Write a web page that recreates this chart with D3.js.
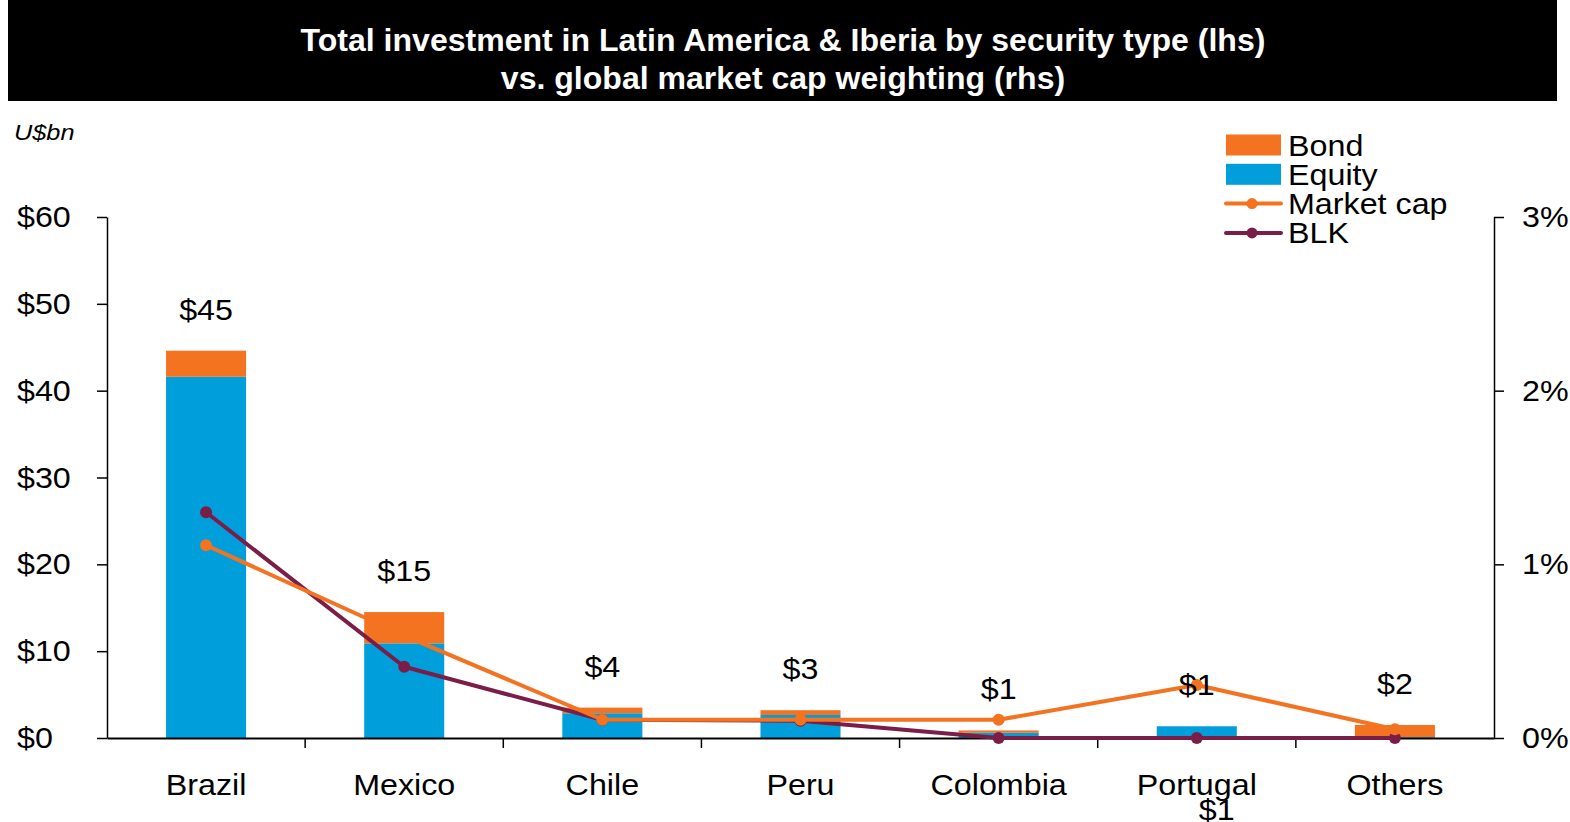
<!DOCTYPE html>
<html>
<head>
<meta charset="utf-8">
<script src="https://cdn.jsdelivr.net/npm/d3@7/dist/d3.min.js"></script>
<style>
  html, body { margin: 0; padding: 0; background: #fff; }
  svg { display: block; font-family: "Liberation Sans", Arial, Helvetica, sans-serif; }
</style>
</head>
<body>
<svg id="chart" width="1570" height="822"></svg>
<script>
// Countries / regions on the category axis
const categories = ["Brazil", "Mexico", "Chile", "Peru", "Colombia", "Portugal", "Others"];
// Investment by security type, US$ bn (left axis)
const equity = [41.6, 10.9, 2.85, 2.65, 0.6, 1.35, 0.1];
const bond   = [3.0, 3.6, 0.65, 0.55, 0.27, 0.0, 1.4];
// Weightings, % (right axis)
const marketCap = [1.11, 0.59, 0.105, 0.105, 0.105, 0.305, 0.05];
const blk       = [1.30, 0.41, 0.105, 0.10, 0.0, 0.0, 0.0];
// Axis tick values
const leftTicks  = [0, 10, 20, 30, 40, 50, 60];
const rightTicks = [0, 1, 2, 3];
const titleLines = [
  "Total investment in Latin America & Iberia by security type (lhs)",
  "vs. global market cap weighting (rhs)"
];

const C_BOND = "#f37321", C_EQUITY = "#009fdb", C_BLK = "#7a1e48";
const FONT = "Liberation Sans, Arial, sans-serif";

const svg = d3.select("#chart");
const plot = { left: 107, right: 1494, top: 217, bottom: 738 };

// Title banner
svg.append("rect").attr("x", 8).attr("y", 0).attr("width", 1549).attr("height", 101).attr("fill", "#000");
svg.selectAll("text.title").data(titleLines).join("text")
  .attr("class", "title wide-title")
  .attr("x", 783).attr("y", (d, i) => 51 + i * 38)
  .attr("text-anchor", "middle")
  .attr("fill", "#fff").attr("font-weight", "bold").attr("font-size", 31.5)
  .text(d => d);

// Scales
const x = d3.scaleBand().domain(categories).range([plot.left, plot.right])
  .paddingInner(0.596).paddingOuter(0.298);
const yL = d3.scaleLinear().domain([0, 60]).range([plot.bottom, plot.top]);
const yR = d3.scaleLinear().domain([0, 3]).range([plot.bottom, plot.top]);

// Stacked bars: equity at the bottom, bond on top
const rows = categories.map((c, i) => ({ c, equity: equity[i], bond: bond[i] }));
const stacked = d3.stack().keys(["equity", "bond"])(rows);
const colors = { equity: C_EQUITY, bond: C_BOND };
svg.append("g").selectAll("g").data(stacked).join("g")
  .attr("fill", d => colors[d.key])
  .selectAll("rect").data(d => d).join("rect")
  .attr("x", d => x(d.data.c))
  .attr("width", x.bandwidth())
  .attr("y", d => yL(d[1]))
  .attr("height", d => yL(d[0]) - yL(d[1]));

// Left axis
const axL = svg.append("g").attr("transform", `translate(${plot.left},0)`)
  .call(d3.axisLeft(yL).tickValues(leftTicks).tickSize(10).tickSizeOuter(0).tickPadding(0)
    .tickFormat(d => "$" + d));
axL.select(".domain").attr("stroke", "#000").attr("stroke-width", 1.5);
axL.selectAll(".tick line").attr("stroke", "#000").attr("stroke-width", 1.5);
axL.selectAll(".tick text").attr("x", -90).attr("text-anchor", "start")
  .attr("font-size", 30).attr("fill", "#000").attr("font-family", FONT).classed("wide", true);

// Right axis
const axR = svg.append("g").attr("transform", `translate(${plot.right},0)`)
  .call(d3.axisRight(yR).tickValues(rightTicks).tickSize(10).tickSizeOuter(0).tickPadding(18)
    .tickFormat(d => d + "%"));
axR.select(".domain").attr("stroke", "#000").attr("stroke-width", 1.5);
axR.selectAll(".tick line").attr("stroke", "#000").attr("stroke-width", 1.5);
axR.selectAll(".tick text").attr("font-size", 30).attr("fill", "#000")
  .attr("font-family", FONT).classed("wide", true);

// Category axis with ticks between categories
const axX = svg.append("g").attr("transform", `translate(0,${plot.bottom})`)
  .call(d3.axisBottom(x).tickSize(0).tickSizeOuter(0).tickPadding(36));
axX.select(".domain").attr("stroke", "#000").attr("stroke-width", 2);
axX.selectAll(".tick text").attr("font-size", 30).attr("fill", "#000")
  .attr("font-family", FONT).classed("wide", true);
const step = x.step();
svg.append("g").selectAll("line").data(categories.slice(1)).join("line")
  .attr("x1", d => x(d) + x.bandwidth() / 2 - step / 2)
  .attr("x2", d => x(d) + x.bandwidth() / 2 - step / 2)
  .attr("y1", plot.bottom).attr("y2", plot.bottom + 10)
  .attr("stroke", "#000").attr("stroke-width", 1.5);

// Weighting lines: BLK underneath, market cap on top
const cx = c => x(c) + x.bandwidth() / 2;
function drawLine(values, color) {
  const pts = categories.map((c, i) => [cx(c), yR(values[i])]);
  svg.append("path").datum(pts)
    .attr("d", d3.line())
    .attr("fill", "none").attr("stroke", color).attr("stroke-width", 4)
    .attr("stroke-linejoin", "round");
  svg.append("g").selectAll("circle").data(pts).join("circle")
    .attr("cx", d => d[0]).attr("cy", d => d[1]).attr("r", 6).attr("fill", color);
}
drawLine(blk, C_BLK);
drawLine(marketCap, C_BOND);

// Total labels above each bar
const totals = categories.map((c, i) => equity[i] + bond[i]);
const fmt = v => "$" + Math.round(+v.toFixed(2));
svg.append("g").selectAll("text").data(categories).join("text")
  .attr("class", "wide")
  .attr("x", c => cx(c)).attr("y", (c, i) => yL(totals[i]) - 31)
  .attr("text-anchor", "middle").attr("font-size", 30).attr("fill", "#000")
  .text((c, i) => fmt(totals[i]));
// Portugal's total is also printed beneath its category name
svg.append("text")
  .attr("class", "wide")
  .attr("x", cx("Portugal") + 20).attr("y", 820)
  .attr("text-anchor", "middle").attr("font-size", 30).attr("fill", "#000")
  .text(fmt(totals[categories.indexOf("Portugal")]));

// Units label
svg.append("text").attr("class", "wide-units").attr("x", 14).attr("y", 140)
  .attr("font-size", 22).attr("font-style", "italic").attr("fill", "#000").text("U$bn");

// Legend
const legend = [
  { name: "Bond", type: "rect", color: C_BOND },
  { name: "Equity", type: "rect", color: C_EQUITY },
  { name: "Market cap", type: "line", color: C_BOND },
  { name: "BLK", type: "line", color: C_BLK }
];
const lg = svg.append("g").attr("transform", "translate(1226,145)");
legend.forEach((d, i) => {
  const g = lg.append("g").attr("transform", `translate(0,${i * 29.3})`);
  if (d.type === "rect") {
    g.append("rect").attr("x", 0).attr("y", -10.5).attr("width", 55).attr("height", 21).attr("fill", d.color);
  } else {
    g.append("line").attr("x1", 0).attr("x2", 55).attr("y1", 0).attr("y2", 0)
      .attr("stroke", d.color).attr("stroke-width", 4).attr("stroke-linecap", "round");
    g.append("circle").attr("cx", 26).attr("cy", 0).attr("r", 5.5).attr("fill", d.color);
  }
  g.append("text").attr("class", "wide").attr("x", 62).attr("y", 10.5)
    .attr("font-size", 30).attr("fill", "#000").text(d.name);
});

// The chart's typeface is set slightly wide; stretch glyphs horizontally
function widen(sel, k) {
  sel.each(function () {
    const len = this.getComputedTextLength();
    d3.select(this).attr("textLength", len * k).attr("lengthAdjust", "spacingAndGlyphs");
  });
}
widen(svg.selectAll("text.wide"), 1.075);
widen(svg.selectAll("text.wide-title"), 1.017);
widen(svg.selectAll("text.wide-units"), 1.15);
</script>
</body>
</html>
